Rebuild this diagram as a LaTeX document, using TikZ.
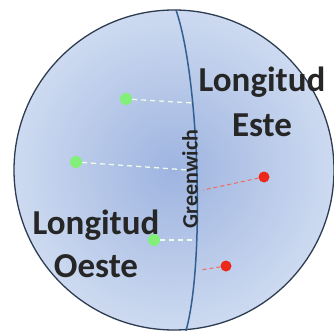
\documentclass[tikz,border=0pt]{standalone}
\usepackage{fontspec}
\setmainfont{Carlito}
\definecolor{globeedge}{RGB}{205,218,240}
\definecolor{globemid}{RGB}{158,180,224}
\definecolor{rim}{RGB}{45,60,80}
\definecolor{meridian}{RGB}{50,95,145}
\definecolor{westdot}{RGB}{130,240,120}
\definecolor{eastdot}{RGB}{235,40,25}
\tikzset{
  westpt/.style={circle, fill=westdot, inner sep=0pt, minimum size=12pt},
  eastpt/.style={circle, fill=eastdot, inner sep=0pt, minimum size=11pt},
  westline/.style={dashed, dash pattern=on 5pt off 4pt, line width=1.3pt, color=white!85!westdot},
  eastline/.style={dashed, dash pattern=on 4pt off 3pt, line width=1pt, color=eastdot!70!white},
  bigtext/.style={font=\bfseries\fontsize{35}{37}\selectfont, text=black!85, inner sep=0pt}
}
\begin{document}
\begin{tikzpicture}[x=1pt, y=-1pt]
\useasboundingbox (0,0) rectangle (334,331);
\clip (0,0) rectangle (334,331);
\fill[white] (0,0) rectangle (334,331);
\shade[inner color=globemid, outer color=globeedge] (174,170) circle (160);
\draw[line width=1.3pt, rim] (174,170) circle (160);
\draw[line width=1.5pt, meridian] (176,10) .. controls (200,80) and (205,270) .. (185,334);
\node[westpt] (w1) at (126,99) {};
\node[westpt] (w2) at (76,162) {};
\node[westpt] (w3) at (154,240) {};
\node[eastpt] (e1) at (264,177) {};
\node[eastpt] (e2) at (226,266) {};
\coordinate (m1) at (193,103);
\coordinate (m2) at (188,170);
\coordinate (m3) at (195,240);
\coordinate (m4) at (203,190);
\coordinate (m5) at (200,270);
\draw[westline] (w1) -- (m1);
\draw[westline] (w2) -- (m2);
\draw[westline] (w3) -- (m3);
\draw[eastline] (e1) -- (m4);
\draw[eastline] (e2) -- (m5);
\node[bigtext] (le) at (262,82) {Longitud};
\node[bigtext] (este) at (262,125) {Este};
\node[bigtext] (lo) at (96,225) {Longitud};
\node[bigtext] (oeste) at (96,266) {Oeste};
\node[rotate=90, font=\bfseries\fontsize{22}{24}\selectfont, text=black!85, inner sep=0pt] (gw) at (190,179) {Greenwich};
\end{tikzpicture}
\end{document}
